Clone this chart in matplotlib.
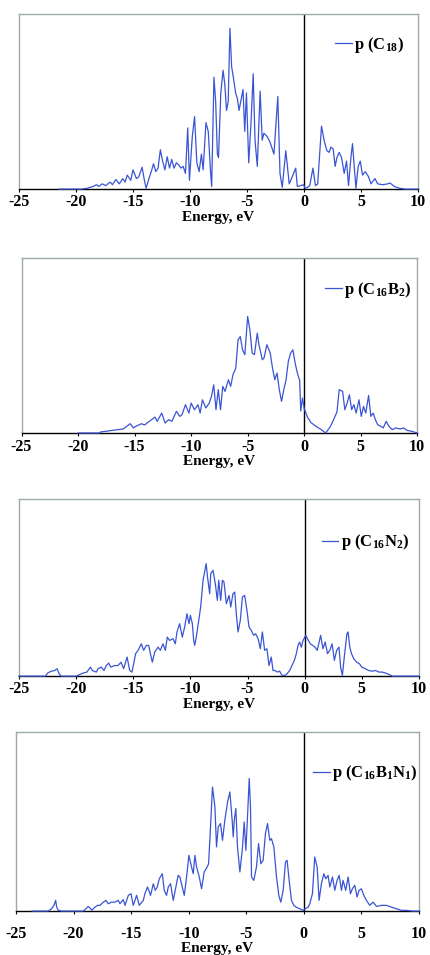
import matplotlib
matplotlib.use("Agg")
import matplotlib.pyplot as plt

plt.rcParams["font.family"] = ["Liberation Serif", "DejaVu Serif"]
plt.rcParams["font.weight"] = "bold"
plt.rcParams["axes.unicode_minus"] = False
plt.rcParams["mathtext.fontset"] = "custom"
plt.rcParams["mathtext.rm"] = "Liberation Serif:bold"
plt.rcParams["mathtext.it"] = "Liberation Serif:bold"
plt.rcParams["mathtext.bf"] = "Liberation Serif:bold"

# p-DOS, arbitrary units (0-100 = panel height)
e_c18 = [-21.5, -19.5, -19.0, -18.5, -18.2, -18.0, -17.7, -17.4, -17.0, -16.8, -16.5, -16.2,
         -15.9, -15.7, -15.5, -15.2, -15.0, -14.7, -14.5, -14.2, -14.0, -13.85, -13.6, -13.4,
         -13.2, -13.0, -12.8, -12.6, -12.4, -12.2, -12.0, -11.8, -11.6, -11.4, -11.2, -11.0,
         -10.8, -10.6, -10.4, -10.2, -10.05, -9.8, -9.6, -9.4, -9.2, -9.0, -8.85, -8.6, -8.4,
         -8.2, -8.1, -7.9, -7.75, -7.6, -7.5, -7.3, -7.1, -6.95, -6.8, -6.65, -6.5, -6.35,
         -6.2, -6.0, -5.85, -5.7, -5.5, -5.35, -5.2, -5.05, -4.85, -4.65, -4.46, -4.3, -4.1,
         -3.85, -3.67, -3.52, -3.23, -2.99, -2.64, -2.3, -2.11, -1.91, -1.6, -1.3, -1.1,
         -0.73, -0.59, -0.3, -0.05, 0.1, 0.3, 0.5, 0.78, 1.0, 1.2, 1.53, 1.76, 2.0, 2.2,
         2.35, 2.55, 2.73, 2.88, 3.08, 3.29, 3.52, 3.73, 3.9, 4.11, 4.25, 4.46, 4.55, 4.75,
         4.93, 5.13, 5.37, 5.66, 5.87, 6.22, 6.46, 6.9, 7.34, 7.54, 7.92, 8.36, 8.86, 10.0]
d_c18 = [0, 0, 0.5, 1.5, 2.5, 1.5, 3, 2, 4, 2.5, 5.5, 3,
         6, 4, 8, 5, 11, 6, 7, 12.5, 5, 0.5, 6, 10,
         14.5, 10, 12, 22.5, 16, 11, 18.5, 12, 17, 12, 15, 14,
         12, 13, 9, 35, 5, 30, 41.5, 15, 10, 20, 11, 38, 33,
         10, 1.5, 64, 50, 20, 18, 55, 68, 60, 45, 50, 92, 70,
         64, 55, 52, 45, 52, 57, 33, 55, 15, 38, 66, 28, 13,
         56, 28, 32, 30, 27, 20, 53, 9, 1, 22, 3, 6,
         12, 1.5, 2, 2.5, 0.5, 1, 2, 12, 2, 3, 36, 28, 22, 21,
         24, 23, 13, 18, 21, 18, 9, 16, 2, 18, 26, 8, 0.5, 13,
         16, 8, 10, 7, 3, 6, 3, 2.5, 3, 3.5, 1.5, 0.5, 0, 0]

e_c16b2 = [-20.0, -18.1, -18.0, -17.5, -17.0, -16.5, -16.0, -15.4, -15.1, -14.9, -14.4, -14.1,
           -13.9, -13.5, -13.2, -13.0, -12.6, -12.3, -12.0, -11.7, -11.3, -11.0, -10.8, -10.5,
           -10.2, -10.0, -9.7, -9.4, -9.2, -9.0, -8.7, -8.4, -8.2, -8.0, -7.8, -7.6, -7.4,
           -7.2, -7.0, -6.7, -6.5, -6.3, -6.05, -5.85, -5.65, -5.45, -5.25, -5.0, -4.8, -4.6,
           -4.4, -4.15, -4.0, -3.7, -3.55, -3.3, -3.0, -2.8, -2.6, -2.4, -2.2, -2.0, -1.8,
           -1.6, -1.4, -1.2, -1.0, -0.8, -0.6, -0.4, -0.3, -0.15, 0.0, 0.3, 0.6, 1.0, 1.5,
           1.9, 2.3, 2.6, 2.9, 3.1, 3.4, 3.6, 3.8, 4.0, 4.2, 4.4, 4.6, 4.85, 5.05, 5.25,
           5.45, 5.7, 5.9, 6.1, 6.3, 6.5, 6.8, 7.0, 7.25, 7.5, 7.8, 8.1, 8.5, 8.8, 9.1,
           9.5, 9.8, 10.0]
d_c16b2 = [0, 0, 0.6, 1.0, 1.5, 1.9, 2.3, 5.3, 2.9, 3.8, 5.3, 4.6,
           5.7, 7.6, 9.1, 6.7, 11.4, 5.7, 7.6, 6.7, 12.4, 9.5, 10.5, 16.2,
           11.4, 17.1, 13.3, 16.2, 11.4, 19.0, 14.3, 17.1, 21.0, 27.6, 13.3, 24.8, 13.3,
           26.7, 23.8, 30.5, 26.7, 33.3, 37.1, 53.3, 55.2, 47.6, 44.8, 66.7, 59.0, 45.7,
           44.8, 57.1, 50.5, 41.9, 42.9, 50.5, 45.7, 37.1, 30.5, 34.3, 24.8, 18.1, 24.8,
           30.5, 41.0, 45.7, 47.6, 40.0, 34.3, 30.0, 12.6, 20.0, 14.0, 9.0, 6.0, 4.0, 2.0,
           0, 3.5, 7.6, 12.0, 24.8, 23.8, 13.3, 17.1, 21.9, 13.3, 16.2, 11.4, 19.0, 9.5, 15.2,
           11.4, 21.5, 9.5, 11.4, 7.6, 4.8, 3.8, 2.9, 6.7, 3.8, 1.9, 2.9, 2.3, 2.9, 1.5,
           1.0, 0.4, 0]

e_c16n2 = [-25.0, -22.7, -22.46, -22.16, -21.87, -21.66, -21.49, -21.29, -19.98, -19.69, -19.4,
           -19.05, -18.75, -18.58, -18.23, -18.08, -17.79, -17.56, -17.35, -17.15, -16.97,
           -16.62, -16.33, -16.07, -15.84, -15.54, -15.31, -15.11, -14.79, -14.58, -14.44,
           -14.29, -14.09, -13.85, -13.65, -13.5, -13.33, -13.12, -12.83, -12.63, -12.4,
           -12.19, -12.02, -11.81, -11.52, -11.32, -11.17, -10.94, -10.71, -10.5, -10.3,
           -10.12, -10.0, -9.83, -9.71, -9.62, -9.48, -9.27, -9.1, -8.89, -8.62, -8.5, -8.31,
           -8.22, -8.02, -7.82, -7.64, -7.52, -7.35, -7.2, -7.06, -6.85, -6.62, -6.47, -6.27,
           -6.12, -5.98, -5.83, -5.63, -5.45, -5.25, -5.05, -4.87, -4.67, -4.46, -4.29, -4.08,
           -3.88, -3.7, -3.5, -3.3, -3.12, -2.92, -2.77, -2.6, -2.39, -2.19, -1.98, -1.75,
           -1.55, -1.31, -1.11, -0.9, -0.73, -0.58, -0.44, -0.29, -0.15, 0.09, 0.3, 0.5, 0.7,
           0.9, 1.1, 1.4, 1.6, 1.8, 2.0, 2.2, 2.4, 2.6, 2.8, 3.0, 3.15, 3.3, 3.5, 3.7, 3.8,
           3.95, 4.1, 4.3, 4.55, 4.8, 5.0, 5.3, 5.6, 5.9, 6.2, 6.5, 6.8, 7.1, 7.4, 7.7, 10.0]
d_c16n2 = [0, 0, 1.9, 2.8, 3.2, 4.2, 1.3, 0, 0, 0.9, 1.7,
           2.3, 5.1, 3.2, 2.3, 4.2, 5.1, 3.2, 6.0, 7.4, 5.1,
           6.0, 6.0, 7.9, 4.2, 10.8, 3.2, 2.3, 12.7, 14.6, 16.4,
           18.3, 14.6, 17.4, 17.4, 12.7, 7.9, 13.6, 16.4, 14.6, 18.3,
           14.6, 22.1, 20.2, 21.2, 18.3, 25.0, 29.7, 22.1, 27.8, 35.3,
           29.7, 34.4, 29.7, 20.2, 17.4, 22.1, 31.6, 39.1, 54.3, 63.7, 56.1, 46.7,
           58.0, 59.9, 52.4, 42.9, 54.3, 42.9, 54.3, 53.3, 41.0, 45.7, 39.1, 46.7,
           47.6, 35.3, 25.0, 31.6, 44.8, 45.7, 37.2, 27.8, 25.9, 23.1, 24.0, 21.2,
           15.5, 25.0, 14.6, 15.5, 6.0, 10.8, 3.2, 3.2, 2.3, 2.8, 0.4, 0.4,
           1.3, 3.2, 6.0, 8.9, 12.7, 17.4, 19.3, 16.4, 20.0, 23.1, 20.5, 18.3, 17.4,
           16.4, 14.6, 23.1, 15.5, 19.3, 12.7, 14.6, 18.3, 8.9, 14.6, 16.4, 5.1, 0.4, 12.7, 24.0, 25.0,
           16.4, 12.7, 9.8, 7.9, 7.0, 5.1, 4.2, 3.2, 2.8, 3.2, 2.3, 2.3, 1.7, 0.9, 0, 0]

e_c16b1n1 = [-23.6, -22.2, -21.9, -21.7, -21.55, -21.46, -21.32, -21.03, -19.15, -18.92, -18.72,
             -18.51, -18.43, -18.14, -17.91, -17.7, -17.41, -17.18, -16.98, -16.69, -16.4, -16.11,
             -15.97, -15.68, -15.53, -15.24, -15.01, -14.81, -14.52, -14.29, -13.94, -13.8, -13.57,
             -13.31, -13.07, -12.9, -12.73, -12.55, -12.29, -12.12, -11.92, -11.77, -11.57, -11.34,
             -11.11, -10.91, -10.76, -10.56, -10.38, -10.18, -9.98, -9.75, -9.6, -9.46, -9.31,
             -9.08, -8.88, -8.65, -8.39, -8.27, -8.16, -7.93, -7.72, -7.58, -7.43, -7.23, -7.06,
             -6.86, -6.62, -6.42, -6.22, -6.13, -6.04, -5.9, -5.76, -5.55, -5.32, -5.18, -5.03,
             -4.89, -4.74, -4.63, -4.54, -4.34, -4.11, -3.93, -3.73, -3.53, -3.33, -3.15, -2.95,
             -2.81, -2.6, -2.37, -2.17, -2.0, -1.79, -1.59, -1.45, -1.27, -1.07, -0.87, -0.67,
             -0.35, -0.06, 0.14, 0.38, 0.52, 0.75, 0.95, 1.16, 1.33, 1.53, 1.74, 1.91, 2.11, 2.26,
             2.49, 2.69, 2.89, 3.07, 3.27, 3.41, 3.64, 3.85, 4.05, 4.22, 4.43, 4.63, 4.8, 5.0,
             5.21, 5.44, 5.73, 6.02, 6.31, 6.74, 7.17, 7.61, 8.04, 8.48, 8.91, 9.49, 10.0]
d_c16b1n1 = [0, 0, 1.3, 3.2, 6.0, 2.2, 0.4, 0, 0, 1.3, 2.6,
             1.3, 0.4, 2.2, 3.2, 3.2, 5.0, 6.0, 4.1, 5.0, 5.0, 6.0,
             4.1, 6.4, 3.2, 8.8, 9.7, 3.2, 8.8, 3.2, 6.0, 9.7, 13.5,
             8.8, 15.3, 11.6, 13.5, 18.1, 20.9, 11.6, 8.8, 13.5, 15.3, 6.0,
             13.5, 20.0, 19.1, 13.5, 8.8, 19.1, 31.2, 24.7, 20.9, 31.2, 24.7,
             19.1, 12.5, 21.9, 24.7, 26.5, 39.6, 69.5, 58.3, 35.9, 47.1, 49.0, 39.6,
             50.8, 61.1, 66.7, 50.8, 41.5, 50.8, 57.4, 35.9, 21.9, 35.9, 49.9, 34.0,
             52.7, 74.2, 58.3, 19.1, 17.2, 24.7, 37.8, 26.5, 28.4, 43.4, 49.0, 39.6,
             40.6, 35.9, 19.1, 8.8, 5.0, 11.6, 27.5, 28.4, 17.2, 6.0, 3.2, 2.2,
             1.3, 0.4, 1.3, 2.2, 4.1, 9.7, 30.3, 24.7, 6.0, 15.3, 20.9, 18.1, 20.0, 13.5,
             19.1, 11.6, 17.2, 20.0, 11.6, 17.2, 11.6, 19.1, 9.7, 12.5, 14.4, 7.9, 11.6, 12.5,
             8.8, 6.0, 3.2, 5.0, 2.6, 3.2, 3.2, 2.2, 1.3, 0.4, 0.4, 0, 0]

series = [
    (e_c18, d_c18, r"p (C$_{18}$)"),
    (e_c16b2, d_c16b2, r"p (C$_{16}$B$_2$)"),
    (e_c16n2, d_c16n2, r"p (C$_{16}$N$_2$)"),
    (e_c16b1n1, d_c16b1n1, r"p (C$_{16}$B$_1$N$_1$)"),
]

# [left, bottom, width, height], legend anchor, tick pad, xlabel y
boxes = [
    ([0.044, 0.802, 0.926, 0.183], (0.792, 0.823), 1.0, -0.160),
    ([0.050, 0.5466, 0.918, 0.183], (0.767, 0.817), 1.5, -0.162),
    ([0.044, 0.292, 0.928, 0.185], (0.757, 0.757), 1.0, -0.160),
    ([0.037, 0.046, 0.935, 0.187], (0.737, 0.771), 8.5, -0.212),
]

BLUE = "#3a55d4"
FRAME = "#9ea9a9"

fig = plt.figure(figsize=(4.31, 9.55), dpi=100)

for (e, d, label), (rect, anchor, pad, ylab) in zip(series, boxes):
    ax = fig.add_axes(rect)
    line, = ax.plot(e, d, color=BLUE, lw=0.9, zorder=3, clip_on=False)
    ax.axvline(0, color="black", lw=1.0, zorder=2)
    ax.set_xlim(-25, 10)
    ax.set_ylim(0, 100)
    ax.set_xticks(range(-25, 11, 5))
    ax.set_yticks([])
    for side in ["left", "right", "top"]:
        ax.spines[side].set_color(FRAME)
        ax.spines[side].set_linewidth(1.0)
    ax.spines["bottom"].set_color("black")
    ax.spines["bottom"].set_linewidth(1.0)
    ax.tick_params(axis="x", direction="out", length=2.5, width=0.8,
                   labelsize=11.5, pad=pad)
    ax.set_xlabel("Energy, eV", fontsize=11, fontweight="bold", va="center")
    ax.xaxis.set_label_coords(0.5, ylab)
    ax.legend([line], [label], loc="center left", bbox_to_anchor=anchor,
              frameon=False, handlelength=1.0, handletextpad=0.15,
              borderpad=0, borderaxespad=0, prop={"size": 12, "weight": "bold"})

fig.savefig("out.png", dpi=100)
